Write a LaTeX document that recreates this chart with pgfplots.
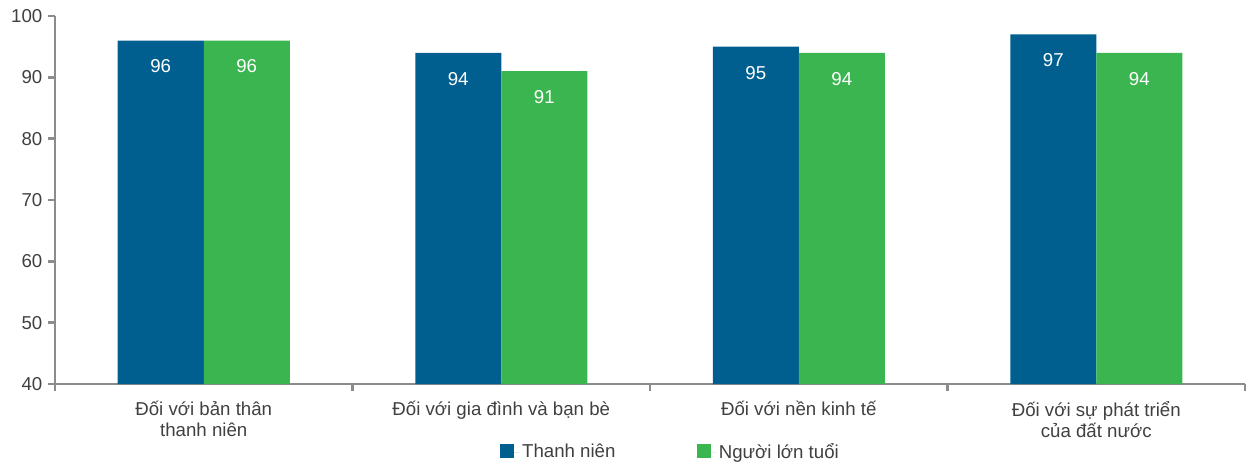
\documentclass[border=0pt]{standalone}
\usepackage{fontspec}
\setmainfont{Liberation Sans}
\usepackage{pgfplots}
\pgfplotsset{compat=1.18}
\definecolor{cblue}{HTML}{005F8F}
\definecolor{cgreen}{HTML}{3AB54F}
\definecolor{caxis}{HTML}{8C8C8C}
\definecolor{ctext}{HTML}{404040}
\begin{document}
\begin{tikzpicture}
\useasboundingbox (-41.25pt,-60.75pt) rectangle (901.5pt,288pt);
\begin{axis}[
  at={(0,0)}, anchor=south west,
  scale only axis,
  width=892.5pt, height=276pt,
  ybar=0pt, bar width=64.5pt,
  ymin=40, ymax=100, ytick={40,50,...,100},
  xmin=-0.5, xmax=3.5,
  xtick={-0.5,0.5,1.5,2.5,3.5},
  x tick label as interval,
  xticklabels={{Đối với bản thân\\thanh niên},{Đối với gia đình và bạn bè},{Đối với nền kinh tế},{Đối với sự phát triển\\của đất nước}},
  xticklabel style={align=center, font=\fontsize{14}{15.5}\selectfont, text=ctext, yshift=-4.5pt},
  yticklabel style={font=\fontsize{14}{16}\selectfont, text=ctext, xshift=-1pt},
  /pgf/number format/assume math mode=true,
  axis x line*=bottom, axis y line*=left,
  axis line style={caxis, line width=1.8pt, -},
  tick style={caxis, line width=1.8pt},
  tick align=outside,
  major tick length=5pt,
  enlarge x limits=false,
  nodes near coords,
  every node near coord/.append style={anchor=center, yshift=-19.5pt, text=white, font=\fontsize{14}{16}\selectfont},
  legend style={at={(0.5175,-0.185)}, anchor=center, draw=none, legend columns=2, font=\fontsize{14}{16}\selectfont, text=ctext,
    /tikz/every even column/.append style={column sep=59pt}},
  legend image code/.code={\fill[#1] (0pt,-4.5pt) rectangle (10.5pt,6pt); \path (0pt,0pt) -- (14.5pt,0pt);},
]
\addplot[fill=cblue, draw=none] coordinates {(0,96) (1,94) (2,95) (3,97)};
\addplot[fill=cgreen, draw=none] coordinates {(0,96) (1,91) (2,94) (3,94)};
\legend{Thanh niên, Người lớn tuổi}
\end{axis}
\end{tikzpicture}
\end{document}
